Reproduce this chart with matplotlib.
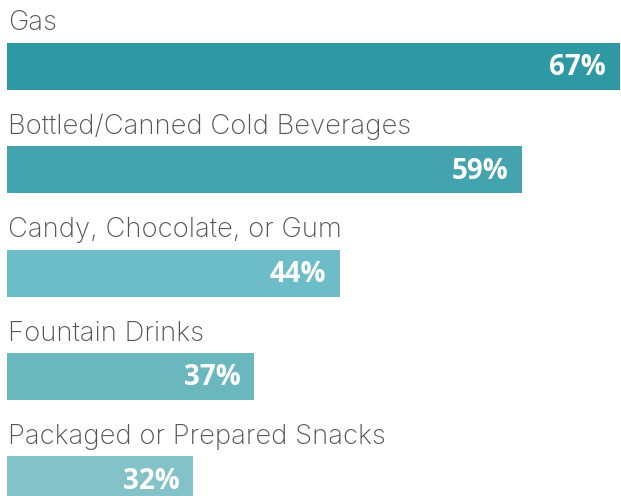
import matplotlib.pyplot as plt
from matplotlib.transforms import blended_transform_factory

# purchases at the store
categories = ["Gas", "Bottled/Canned Cold Beverages", "Candy, Chocolate, or Gum",
              "Fountain Drinks", "Packaged or Prepared Snacks"]
values = [67, 59, 44, 37, 32]
colors = ["#2e99a5", "#43a3ae", "#6dbdc8", "#6bb7be", "#83c2c8"]

plt.rcParams['font.family'] = ['Open Sans', 'DejaVu Sans']

fig = plt.figure(figsize=(6.21, 4.96), dpi=100)
ax = fig.add_axes([7 / 621, 0, 614 / 621, 1])

pos = list(range(len(categories)))
ax.barh(pos, values, height=0.455, color=colors)

# the bars do not start at zero in the original
ax.set_xlim(16.7, 67.1)
ax.set_ylim(4.157, -0.644)
ax.axis("off")

tr = blended_transform_factory(ax.transAxes, ax.transData)
for i, (name, v) in enumerate(zip(categories, values)):
    ax.text(0.002, i - 0.35, name, transform=tr, fontsize=19.8,
            family=["Inter", "DejaVu Sans"], fontweight="light",
            color="#555555", va="baseline", ha="left")
    ax.annotate(f"{v}%", xy=(v, i), xytext=(-10, -1), textcoords="offset points",
                ha="right", va="center", fontsize=20, fontweight="bold",
                color="white")

fig.savefig("out.png", dpi=100)
